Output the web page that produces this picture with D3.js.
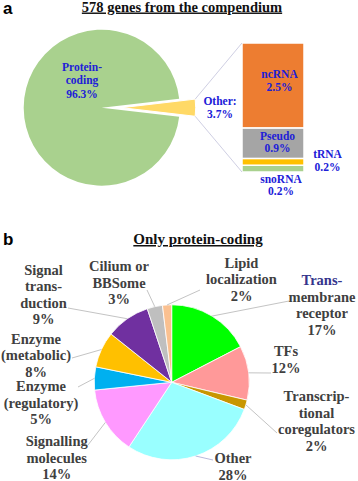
<!DOCTYPE html>
<html><head><meta charset="utf-8">
<script src="https://cdn.jsdelivr.net/npm/d3@7"></script>
<style>body{margin:0;background:#fff}svg{display:block}</style>
</head><body><svg id="c" width="358" height="481"></svg>
<script>
// ---------- Panel a data ----------
const topTitle = "578 genes from the compendium";
const topCategories = ["Other", "Protein-coding"];
const topValues = [3.7, 96.3];
const topLabelLines = [["Other:", "3.7%"], ["Protein-", "coding", "96.3%"]];
const barCategories = ["snoRNA", "tRNA", "Pseudo", "ncRNA"];
const barValues = [0.2, 0.2, 0.9, 2.5];
const barLabelLines = [["snoRNA", "0.2%"], ["tRNA", "0.2%"], ["Pseudo", "0.9%"], ["ncRNA", "2.5%"]];

// ---------- Panel b data ----------
const pcTitle = "Only protein-coding";
const pcCategories = ["Transmembrane receptor", "TFs", "Transcriptional coregulators", "Other",
  "Signalling molecules", "Enzyme (regulatory)", "Enzyme (metabolic)", "Signal transduction",
  "Cilium or BBSome", "Lipid localization"];
const pcValues = [17.4, 11.3, 2.0, 28.6, 14.1, 4.8, 7.5, 9.2, 3.2, 1.9];
const pcPercentLabels = ["17%", "12%", "2%", "28%", "14%", "5%", "8%", "9%", "3%", "2%"];
const pcNameLines = [["Trans-", "membrane", "receptor"], ["TFs"], ["Transcrip-", "tional", "coregulators"],
  ["Other"], ["Signalling", "molecules"], ["Enzyme", "(regulatory)"], ["Enzyme", "(metabolic)"],
  ["Signal", "trans-", "duction"], ["Cilium or", "BBSome"], ["Lipid", "localization"]];

// ---------- styles / layout ----------
const topColors = {"Other": "#ffd966", "Protein-coding": "#a9d18e"};
const barColors = {"snoRNA": "#a9d18e", "tRNA": "#ffc000", "Pseudo": "#a5a5a5", "ncRNA": "#ed7d31"};
const pcColors = ["#00ff00", "#ff9999", "#c89600", "#99ffff", "#ff99ff", "#00b0f0", "#ffc000", "#7030a0", "#bfbfbf", "#fac090"];
const pcLabelLayout = [
  {x: 322, y: 285, ex: 289, ey: 301},
  {x: 286, y: 356, ex: 271, ey: 373},
  {x: 316.5, y: 401, ex: 277, ey: 433},
  {x: 233, y: 463, ex: 213, ey: 460},
  {x: 56.7, y: 446, ex: 88, ey: 445},
  {x: 41, y: 391, ex: 78, ey: 387},
  {x: 36, y: 343.5, ex: 72, ey: 358},
  {x: 43.5, y: 274.5, ex: 68, ey: 308},
  {x: 119, y: 271, ex: 147, ey: 290},
  {x: 241.5, y: 267.6, ex: 200, ey: 290}
];
const serif = "'Liberation Serif','Times New Roman',serif";
const sans = "'Liberation Sans',Arial,sans-serif";
const blue = "#2020d8";

const svg = d3.select("#c");

// Panel letters and titles
svg.append("text").attr("x", 3).attr("y", 13.5).attr("font-family", sans).attr("font-weight", "bold")
  .attr("font-size", 17).text("a");
svg.append("text").attr("x", 3).attr("y", 245).attr("font-family", sans).attr("font-weight", "bold")
  .attr("font-size", 17).text("b");
svg.append("text").attr("x", 182).attr("y", 11.5).attr("text-anchor", "middle").attr("font-family", serif)
  .attr("font-weight", "bold").attr("font-size", 14.5).attr("fill", "#111")
  .style("text-decoration", "underline").text(topTitle);
svg.append("text").attr("x", 198).attr("y", 244).attr("text-anchor", "middle").attr("font-family", serif)
  .attr("font-weight", "bold").attr("font-size", 15).attr("fill", "#111")
  .style("text-decoration", "underline").text(pcTitle);

// ---------- Panel a: pie of bar ----------
const cxA = 101.7, cyA = 107.7, rA = 78, explode = 20, rOther = 74;
const topData = topCategories.map((c, i) => ({cat: c, value: topValues[i], lines: topLabelLines[i]}));
const otherFrac = topValues[0] / d3.sum(topValues);
const halfA = Math.PI * otherFrac;
const pieA = d3.pie().sort(null).value(d => d.value)
  .startAngle(Math.PI / 2 - halfA).endAngle(Math.PI / 2 - halfA + 2 * Math.PI);
const arcsA = pieA(topData);
const gA = svg.append("g");
arcsA.forEach(a => {
  const isOther = a.data.cat === "Other";
  const ox = isOther ? cxA + explode : cxA;
  const r = isOther ? rOther : rA;
  gA.append("path").attr("transform", `translate(${ox},${cyA})`)
    .attr("d", d3.arc().innerRadius(0).outerRadius(r)(a))
    .attr("fill", topColors[a.data.cat]).attr("stroke", "#fff").attr("stroke-width", isOther ? 1 : 0);
});
// protein-coding label
svg.append("g").selectAll("text").data(topLabelLines[1]).join("text")
  .attr("x", 82).attr("y", (d, i) => 71 + i * 13.3).attr("text-anchor", "middle")
  .attr("font-family", serif).attr("font-weight", "bold").attr("font-size", 11.5).attr("fill", blue).text(d => d);
svg.append("g").selectAll("text").data(topLabelLines[0]).join("text")
  .attr("x", 220).attr("y", (d, i) => 104.5 + i * 13.5).attr("text-anchor", "middle")
  .attr("font-family", serif).attr("font-weight", "bold").attr("font-size", 11.5).attr("fill", blue).text(d => d);

// bar
const barX0 = 242, barW = 62;
const yBar = d3.scaleLinear().domain([0, d3.sum(barValues)]).range([172, 43]);
const stackData = [];
let acc = 0;
barCategories.forEach((c, i) => { stackData.push({cat: c, y0: acc, y1: acc + barValues[i], lines: barLabelLines[i]}); acc += barValues[i]; });
svg.append("g").selectAll("rect").data(stackData).join("rect")
  .attr("x", barX0).attr("width", barW)
  .attr("y", d => yBar(d.y1)).attr("height", d => yBar(d.y0) - yBar(d.y1))
  .attr("fill", d => barColors[d.cat]).attr("stroke", "#fff").attr("stroke-width", 1.5);

// connector lines
const otherArc = arcsA[0];
const cornerTop = [cxA + explode + rOther * Math.sin(otherArc.startAngle), cyA - rOther * Math.cos(otherArc.startAngle)];
const cornerBot = [cxA + explode + rOther * Math.sin(otherArc.endAngle), cyA - rOther * Math.cos(otherArc.endAngle)];
svg.append("line").attr("x1", cornerTop[0]).attr("y1", cornerTop[1]).attr("x2", barX0).attr("y2", yBar(d3.sum(barValues)))
  .attr("stroke", "#cfcfe3").attr("stroke-width", 1);
svg.append("line").attr("x1", cornerBot[0]).attr("y1", cornerBot[1]).attr("x2", barX0).attr("y2", yBar(0))
  .attr("stroke", "#cfcfe3").attr("stroke-width", 1);

// bar labels
const barLabelPos = {"ncRNA": {x: 279.5, y: 78.3}, "Pseudo": {x: 277.5, y: 140}, "tRNA": {x: 327.5, y: 158.3}, "snoRNA": {x: 281, y: 182.7}};
stackData.forEach(d => {
  const p = barLabelPos[d.cat];
  svg.append("g").selectAll("text").data(d.lines).join("text")
    .attr("x", p.x).attr("y", (t, i) => p.y + i * 12.4).attr("text-anchor", "middle")
    .attr("font-family", serif).attr("font-weight", "bold").attr("font-size", 11.5).attr("fill", blue).text(t => t);
});

// ---------- Panel b: pie ----------
const cxB = 171.7, cyB = 382.3, rB = 77.5;
const pcData = pcCategories.map((c, i) => ({cat: c, value: pcValues[i], i}));
const pieB = d3.pie().sort(null).value(d => d.value);
const arcsB = pieB(pcData);
const arcB = d3.arc().innerRadius(0).outerRadius(rB);
const gB = svg.append("g").attr("transform", `translate(${cxB},${cyB})`);
gB.selectAll("path").data(arcsB).join("path").attr("d", arcB)
  .attr("fill", d => pcColors[d.data.i]).attr("stroke", "#fff").attr("stroke-width", 0.8);

// leader lines
arcsB.forEach(a => {
  const m = (a.startAngle + a.endAngle) / 2;
  const L = pcLabelLayout[a.data.i];
  svg.append("line")
    .attr("x1", cxB + rB * Math.sin(m)).attr("y1", cyB - rB * Math.cos(m))
    .attr("x2", L.ex).attr("y2", L.ey)
    .attr("stroke", a.data.cat === "Other" ? "#b8b8dc" : "#c4c4c4").attr("stroke-width", 1);
});
// labels
pcData.forEach(d => {
  const L = pcLabelLayout[d.i];
  const lines = pcNameLines[d.i].concat([pcPercentLabels[d.i]]);
  svg.append("g").selectAll("text").data(lines).join("text")
    .attr("x", L.x).attr("y", (t, k) => L.y + k * 16.5).attr("text-anchor", "middle")
    .attr("font-family", serif).attr("font-weight", "bold").attr("font-size", 14.5)
    .attr("fill", (t, k) => (d.i === 0 && k === 0) ? "#35358c" : "#404040").text(t => t);
});
</script></body></html>
